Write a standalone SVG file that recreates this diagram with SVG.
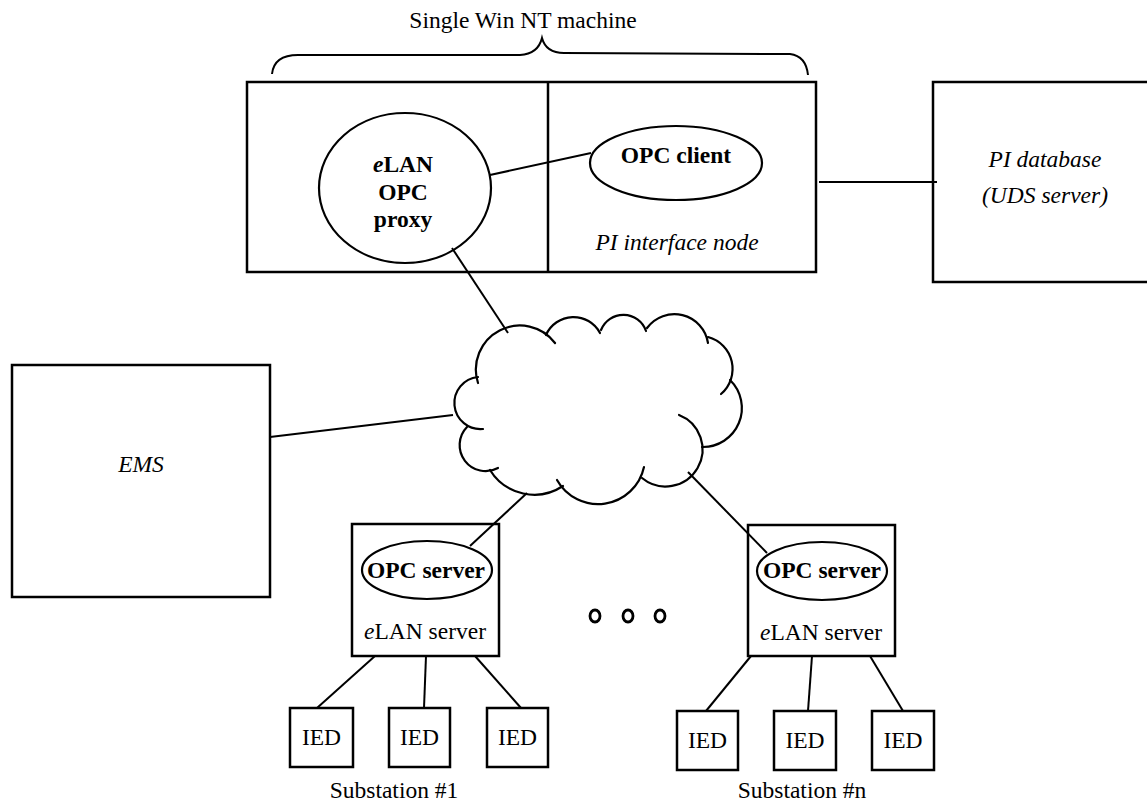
<svg xmlns="http://www.w3.org/2000/svg" width="1147" height="804" viewBox="0 0 1147 804" font-family="Liberation Serif, DejaVu Serif, serif">
<style>
  .box { fill: none; stroke: #000; stroke-width: 2.5; }
  .ell { fill: none; stroke: #000; stroke-width: 2.2; }
  .ln { fill: none; stroke: #000; stroke-width: 2; }
  .cloud { fill: none; stroke: #000; stroke-width: 2.2; stroke-linecap: round; }
  .dot { fill: none; stroke: #000; stroke-width: 2.8; }
  text { font-family: Liberation Serif, DejaVu Serif, serif; font-size: 23.5px; fill: #000; text-anchor: middle; }
  .b { font-weight: bold; }
  .i { font-style: italic; }
</style>
<rect width="1147" height="804" fill="#fff"/>

<g id="machine-label">
  <text x="523" y="28">Single Win NT machine</text>
  <path class="ln" d="M272,74 Q274,55 298,55 L520,55 Q538,54 542,38 Q546,53 564,53 L790,54 Q806,56 808,75"/>
</g>

<g id="connectors">
  <line class="ln" x1="490" y1="175" x2="591" y2="153"/>
  <line class="ln" x1="452" y1="248" x2="508" y2="333"/>
  <line class="ln" x1="819" y1="182" x2="937" y2="182"/>
  <line class="ln" x1="270" y1="437" x2="453" y2="415"/>
  <line class="ln" x1="527" y1="493" x2="470" y2="546"/>
  <line class="ln" x1="688" y1="472" x2="767" y2="553"/>
  <line class="ln" x1="375" y1="656" x2="317" y2="708"/>
  <line class="ln" x1="426" y1="656" x2="424" y2="708"/>
  <line class="ln" x1="475" y1="656" x2="521" y2="708"/>
  <line class="ln" x1="751" y1="656" x2="706" y2="711"/>
  <line class="ln" x1="812" y1="656" x2="808" y2="711"/>
  <line class="ln" x1="870" y1="656" x2="903" y2="711"/>
</g>

<g id="win-nt-machine">
  <rect class="box" x="247" y="82" width="569" height="190"/>
  <line class="box" x1="548" y1="82" x2="548" y2="272"/>
</g>

<g id="elan-opc-proxy">
  <ellipse class="ell" cx="405" cy="188" rx="86" ry="75"/>
  <text class="b" x="403" y="172"><tspan class="i">e</tspan>LAN</text>
  <text class="b" x="403" y="200">OPC</text>
  <text class="b" x="403" y="227">proxy</text>
</g>

<g id="opc-client">
  <ellipse class="ell" cx="676" cy="163" rx="86" ry="37"/>
  <text class="b" x="676" y="163">OPC client</text>
</g>

<g id="pi-interface-node">
  <text class="i" x="677" y="250">PI interface node</text>
</g>

<g id="pi-database">
  <rect class="box" x="933" y="82" width="230" height="200"/>
  <text class="i" x="1045" y="167">PI database</text>
  <text class="i" x="1045" y="203">(UDS server)</text>
</g>

<g id="ems">
  <rect class="box" x="12" y="365" width="258" height="232"/>
  <text class="i" x="141" y="472">EMS</text>
</g>

<g id="network-cloud">
  <path class="cloud" d="M478,383 A44,44 0 0 1 555,343"/>
  <path class="cloud" d="M546,335 A30,30 0 0 1 600,333"/>
  <path class="cloud" d="M601,330 A24,24 0 0 1 646,331"/>
  <path class="cloud" d="M647,328 A34,34 0 0 1 708,343"/>
  <path class="cloud" d="M708,337 A33,33 0 0 1 721,394"/>
  <path class="cloud" d="M730,380 A39,39 0 0 1 702,447"/>
  <path class="cloud" d="M679,415 A37,37 0 1 1 642,478"/>
  <path class="cloud" d="M644,467 A47,47 0 0 1 557,480"/>
  <path class="cloud" d="M563,486 A52,52 0 0 1 490,470"/>
  <path class="cloud" d="M498,468 A26,26 0 0 1 467,427"/>
  <path class="cloud" d="M483,429 A26,26 0 0 1 478,377"/>
</g>

<g id="elan-server-1">
  <rect class="box" x="352" y="524" width="147" height="132"/>
  <ellipse class="ell" cx="427" cy="570" rx="65" ry="29"/>
  <text class="b" x="426" y="578">OPC server</text>
  <text x="425" y="639"><tspan class="i">e</tspan>LAN server</text>
</g>

<g id="elan-server-n">
  <rect class="box" x="748" y="525" width="147" height="131"/>
  <ellipse class="ell" cx="822" cy="571" rx="65" ry="29"/>
  <text class="b" x="822" y="578">OPC server</text>
  <text x="821" y="640"><tspan class="i">e</tspan>LAN server</text>
</g>

<g id="ellipsis">
  <ellipse class="dot" cx="595" cy="616" rx="5" ry="6"/>
  <ellipse class="dot" cx="628" cy="616" rx="5" ry="6"/>
  <ellipse class="dot" cx="660" cy="616" rx="5" ry="6"/>
</g>

<g id="ied-1-1"><rect class="box" x="290" y="708" width="63" height="59"/><text x="321.5" y="745">IED</text></g>
<g id="ied-1-2"><rect class="box" x="389" y="708" width="61" height="59"/><text x="419.5" y="745">IED</text></g>
<g id="ied-1-3"><rect class="box" x="487" y="708" width="61" height="59"/><text x="517.5" y="745">IED</text></g>
<g id="ied-n-1"><rect class="box" x="677" y="711" width="61" height="59"/><text x="707.5" y="748">IED</text></g>
<g id="ied-n-2"><rect class="box" x="774" y="711" width="62" height="59"/><text x="805" y="748">IED</text></g>
<g id="ied-n-3"><rect class="box" x="872" y="711" width="62" height="59"/><text x="903" y="748">IED</text></g>

<g id="substation-labels">
  <text x="394" y="798">Substation #1</text>
  <text x="802" y="798">Substation #n</text>
</g>
</svg>
